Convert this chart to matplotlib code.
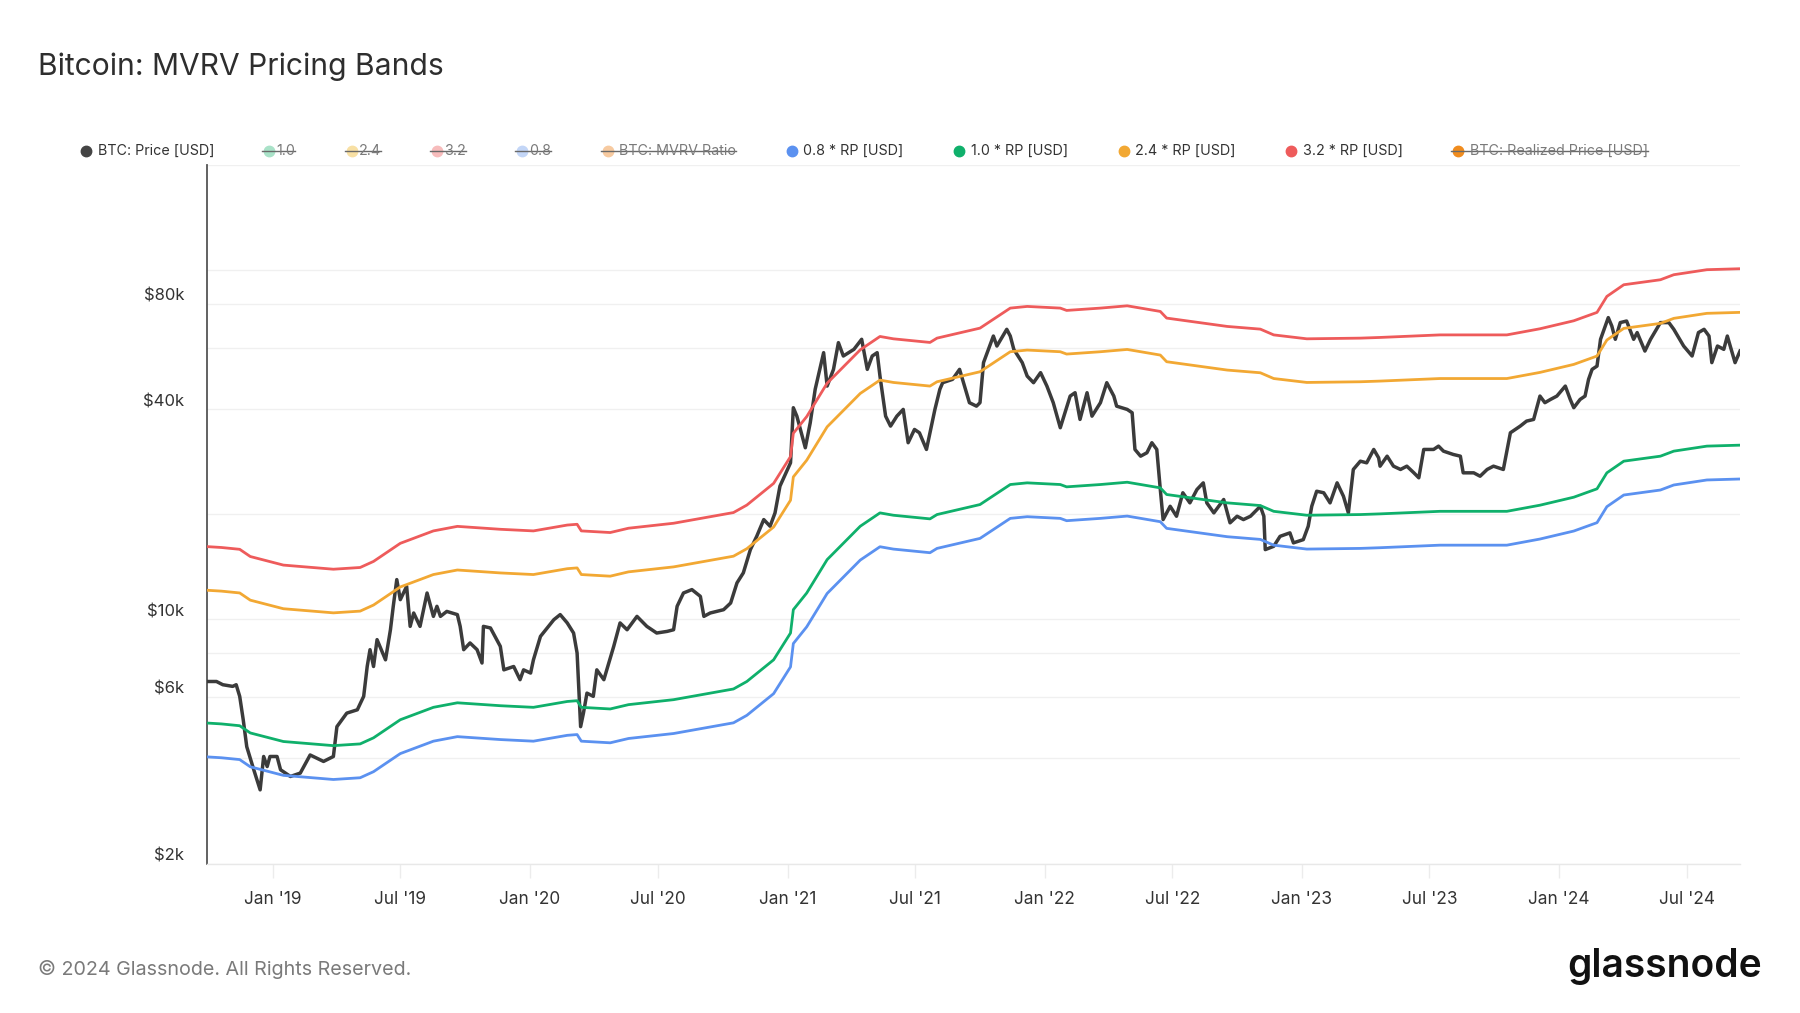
import matplotlib
matplotlib.use('Agg')
import matplotlib.pyplot as plt
import matplotlib.dates as mdates
from matplotlib.lines import Line2D
from matplotlib.ticker import FixedLocator, NullLocator, FixedFormatter
import pandas as pd

plt.rcParams['font.family'] = ['Inter', 'DejaVu Sans']

# ---------------- data ----------------
price_dates = [
    "2018-09-29", "2018-10-13", "2018-10-22", "2018-11-05", "2018-11-10", "2018-11-15", "2018-11-20",
    "2018-11-25", "2018-12-05", "2018-12-14", "2018-12-19", "2018-12-24", "2018-12-28", "2019-01-07",
    "2019-01-12", "2019-01-26", "2019-02-09", "2019-02-23", "2019-03-14", "2019-03-28", "2019-04-02",
    "2019-04-16", "2019-05-01", "2019-05-10", "2019-05-15", "2019-05-19", "2019-05-24", "2019-05-29",
    "2019-06-10", "2019-06-17", "2019-06-21", "2019-06-26", "2019-07-01", "2019-07-10", "2019-07-15",
    "2019-07-20", "2019-07-29", "2019-08-08", "2019-08-17", "2019-08-22", "2019-08-27", "2019-09-05",
    "2019-09-20", "2019-09-24", "2019-09-29", "2019-10-08", "2019-10-18", "2019-10-25", "2019-10-27",
    "2019-11-06", "2019-11-20", "2019-11-25", "2019-12-09", "2019-12-18", "2019-12-23", "2020-01-02",
    "2020-01-06", "2020-01-16", "2020-02-04", "2020-02-13", "2020-02-23", "2020-03-03", "2020-03-08",
    "2020-03-13", "2020-03-17", "2020-03-22", "2020-03-31", "2020-04-05", "2020-04-15", "2020-04-29",
    "2020-05-08", "2020-05-18", "2020-06-01", "2020-06-15", "2020-06-29", "2020-07-14", "2020-07-23",
    "2020-07-28", "2020-08-06", "2020-08-18", "2020-08-30", "2020-09-04", "2020-09-13", "2020-10-02",
    "2020-10-12", "2020-10-21", "2020-10-30", "2020-11-09", "2020-11-18", "2020-11-28", "2020-12-07",
    "2020-12-14", "2020-12-21", "2021-01-05", "2021-01-09", "2021-01-14", "2021-01-26", "2021-02-02",
    "2021-02-09", "2021-02-21", "2021-02-26", "2021-03-07", "2021-03-14", "2021-03-21", "2021-04-05",
    "2021-04-16", "2021-04-24", "2021-05-01", "2021-05-08", "2021-05-12", "2021-05-20", "2021-05-27",
    "2021-06-05", "2021-06-14", "2021-06-21", "2021-06-30", "2021-07-07", "2021-07-17", "2021-07-21",
    "2021-07-29", "2021-08-05", "2021-08-09", "2021-08-23", "2021-09-02", "2021-09-09", "2021-09-16",
    "2021-09-26", "2021-10-01", "2021-10-06", "2021-10-20", "2021-10-25", "2021-11-08", "2021-11-13",
    "2021-11-18", "2021-11-30", "2021-12-07", "2021-12-16", "2021-12-26", "2022-01-04", "2022-01-13",
    "2022-01-23", "2022-02-06", "2022-02-13", "2022-02-20", "2022-03-02", "2022-03-09", "2022-03-21",
    "2022-03-30", "2022-04-09", "2022-04-13", "2022-04-28", "2022-05-05", "2022-05-09", "2022-05-17",
    "2022-05-26", "2022-06-02", "2022-06-09", "2022-06-14", "2022-06-18", "2022-06-28", "2022-07-07",
    "2022-07-16", "2022-07-26", "2022-08-05", "2022-08-14", "2022-08-19", "2022-08-29", "2022-09-12",
    "2022-09-21", "2022-10-01", "2022-10-10", "2022-10-20", "2022-11-03", "2022-11-08", "2022-11-10",
    "2022-11-22", "2022-12-01", "2022-12-15", "2022-12-20", "2023-01-03", "2023-01-10", "2023-01-15",
    "2023-01-22", "2023-02-01", "2023-02-10", "2023-02-20", "2023-03-01", "2023-03-08", "2023-03-15",
    "2023-03-25", "2023-04-03", "2023-04-13", "2023-04-20", "2023-04-22", "2023-05-02", "2023-05-11",
    "2023-05-21", "2023-05-30", "2023-06-09", "2023-06-16", "2023-06-23", "2023-07-07", "2023-07-14",
    "2023-07-21", "2023-08-04", "2023-08-14", "2023-08-18", "2023-09-02", "2023-09-11", "2023-09-21",
    "2023-09-30", "2023-10-14", "2023-10-24", "2023-11-07", "2023-11-16", "2023-11-26", "2023-12-05",
    "2023-12-12", "2023-12-20", "2023-12-29", "2024-01-10", "2024-01-17", "2024-01-22", "2024-01-31",
    "2024-02-07", "2024-02-12", "2024-02-17", "2024-02-24", "2024-02-29", "2024-03-11", "2024-03-16",
    "2024-03-21", "2024-03-28", "2024-04-06", "2024-04-16", "2024-04-21", "2024-05-02", "2024-05-10",
    "2024-05-24", "2024-06-05", "2024-06-12", "2024-06-26", "2024-07-08", "2024-07-17", "2024-07-25",
    "2024-08-01", "2024-08-05", "2024-08-13", "2024-08-22", "2024-08-27", "2024-09-07", "2024-09-14",
]
price_values = [
    6640, 6640, 6500, 6430, 6500, 6020, 5160,
    4320, 3710, 3250, 4050, 3790, 4050, 4050,
    3710, 3550, 3630, 4090, 3920, 4050, 4930,
    5390, 5510, 6020, 7330, 8190, 7330, 8750,
    7660, 9340, 10900, 13000, 11390, 12430, 9550,
    10430, 9550, 11900, 10200, 10900, 10200, 10540,
    10320, 9550, 8190, 8560, 8190, 7500, 9550,
    9450, 8370, 7170, 7330, 6720, 7170, 7020,
    7660, 8940, 9980, 10320, 9770, 9140, 8010,
    4930, 5390, 6150, 6020, 7170, 6720, 8370,
    9770, 9340, 10200, 9550, 9140, 9240, 9340,
    10900, 11900, 12170, 11640, 10200, 10430, 10660,
    11140, 12720, 13590, 15840, 17290, 19310, 18480,
    20180, 24070, 28070, 40370, 38190, 31000, 36560,
    45560, 58040, 46560, 51980, 62000, 56770, 59320,
    63380, 51980, 56770, 58040, 49730, 38190, 35760,
    38190, 39920, 32050, 34980, 34220, 30660, 33470,
    39920, 45560, 47610, 48670, 51980, 46560, 41730,
    40790, 41730, 54340, 64760, 60630, 67700, 64760,
    59320, 54340, 49730, 47610, 50870, 46560, 41730,
    35380, 43590, 44570, 37370, 44570, 38190, 41730,
    47610, 43590, 40790, 39920, 39060, 30660, 29330,
    30000, 32050, 30660, 23540, 19310, 21080, 19740,
    23040, 21560, 23540, 24600, 21560, 20180, 22040,
    18900, 19740, 19310, 19740, 21080, 19740, 15840,
    16190, 17290, 17690, 16560, 16920, 18480, 21080,
    23280, 23040, 21560, 24600, 22520, 20180, 26870,
    28380, 28070, 30660, 29000, 27460, 29330, 27460,
    26870, 27460, 26280, 25430, 30660, 30660, 31340,
    30320, 29660, 29330, 26280, 26280, 25700, 26870,
    27460, 26870, 34220, 35760, 36960, 37370, 43590,
    41730, 42640, 43590, 46560, 42640, 40370, 42640,
    43590, 48670, 51980, 53120, 63380, 73120, 69180,
    63380, 70760, 71500, 63380, 66250, 58660, 63380,
    70760, 70760, 67700, 60630, 56770, 66250, 67700,
    64760, 54340, 60630, 59320, 64760, 54340, 58660,
]

rp_dates = [
    "2018-09-29", "2018-10-20", "2018-11-15", "2018-11-30", "2019-01-16", "2019-03-28", "2019-05-05",
    "2019-05-24", "2019-07-01", "2019-08-17", "2019-09-20", "2019-11-20", "2020-01-06", "2020-02-23",
    "2020-03-08", "2020-03-14", "2020-04-24", "2020-05-20", "2020-07-23", "2020-10-16", "2020-11-04",
    "2020-12-12", "2021-01-05", "2021-01-09", "2021-01-28", "2021-02-26", "2021-04-14", "2021-05-12",
    "2021-05-31", "2021-07-22", "2021-08-01", "2021-10-01", "2021-11-13", "2021-12-07", "2022-01-23",
    "2022-02-01", "2022-03-21", "2022-04-28", "2022-05-12", "2022-06-14", "2022-06-23", "2022-09-17",
    "2022-11-03", "2022-11-22", "2023-01-08", "2023-03-25", "2023-04-22", "2023-07-16", "2023-10-19",
    "2023-12-05", "2024-01-22", "2024-02-24", "2024-03-09", "2024-04-02", "2024-05-24", "2024-06-12",
    "2024-07-29", "2024-09-14",
]
rp_values = [
    5050, 5020, 4960, 4730, 4470, 4350, 4400,
    4580, 5160, 5600, 5770, 5660, 5600, 5820,
    5850, 5600, 5540, 5700, 5890, 6320, 6640,
    7660, 9140, 10660, 11900, 14830, 18480, 20180,
    19870, 19400, 19960, 21320, 24330, 24600, 24330,
    23960, 24330, 24700, 24430, 23800, 22780, 21560,
    21180, 20390, 19870, 19960, 20050, 20390, 20390,
    21230, 22380, 23650, 26280, 28380, 29330, 30320,
    31340, 31540,
]

band_multipliers = [0.8, 1.0, 2.4, 3.2]
band_labels = ["0.8 * RP [USD]", "1.0 * RP [USD]", "2.4 * RP [USD]", "3.2 * RP [USD]"]
band_colors = ["#5b91f0", "#0fb06b", "#f2a833", "#ee5b5b"]

y_tick_values = [2000, 4000, 6000, 8000, 10000, 20000, 40000, 60000, 80000, 100000, 200000]
y_tick_labels = ["$2k", "", "$6k", "", "$10k", "", "$40k", "", "$80k", "", ""]

legend_items = [
    # label, colour, text colour, struck-through, marker x, text x  (figure px)
    ("BTC: Price [USD]", "#444444", "#333333", False, 86, 98),
    ("1.0", "#a9e2c8", "#7a7a7a", True, 269, 276),
    ("2.4", "#f8e0a4", "#7a7a7a", True, 352, 359),
    ("3.2", "#f7bcbc", "#7a7a7a", True, 437, 444),
    ("0.8", "#c3d6f7", "#7a7a7a", True, 522, 529),
    ("BTC: MVRV Ratio", "#f7caa0", "#7a7a7a", True, 608, 619),
    ("0.8 * RP [USD]", "#5b91f0", "#333333", False, 792, 803),
    ("1.0 * RP [USD]", "#0fb06b", "#333333", False, 959, 971),
    ("2.4 * RP [USD]", "#f2a833", "#333333", False, 1124, 1135),
    ("3.2 * RP [USD]", "#ee5b5b", "#333333", False, 1291, 1303),
    ("BTC: Realized Price [USD]", "#f08c1e", "#7a7a7a", True, 1458, 1470),
]

# ---------------- figure ----------------
W, H = 1800, 1013
fig = plt.figure(figsize=(W / 100, H / 100), dpi=100)
fig.patch.set_facecolor("white")
ax = fig.add_axes([206.6 / W, 1 - 863.5 / H, (1740 - 206.6) / W, (863.5 - 165) / H])

pdates = pd.to_datetime(price_dates)
rdates = pd.to_datetime(rp_dates)
rp = pd.Series(rp_values, index=rdates, dtype=float)

ax.plot(pdates, price_values, color="#3b3b3b", lw=2.5, zorder=3, solid_joinstyle="round")
for m, c in zip(band_multipliers, band_colors):
    ax.plot(rdates, rp.values * m, color=c, lw=2.0, zorder=4, solid_joinstyle="round")

ax.set_yscale("log")
ax.set_ylim(2000, 200000)
ax.yaxis.set_major_locator(FixedLocator(y_tick_values))
ax.yaxis.set_major_formatter(FixedFormatter(y_tick_labels))
ax.yaxis.set_minor_locator(NullLocator())
ax.tick_params(axis="y", length=0, pad=16, labelsize=12, labelcolor="#333333")
for lbl in ax.get_yticklabels():
    lbl.set_verticalalignment("bottom")
ax.grid(axis="y", color="#f0f0f0", lw=1.0, zorder=0)

ax.set_xlim(pd.Timestamp("2018-09-29"), pd.Timestamp("2024-09-14"))
ax.xaxis.set_major_locator(mdates.MonthLocator(bymonth=[1, 7]))
ax.xaxis.set_major_formatter(mdates.DateFormatter("%b '%y"))
ax.tick_params(axis="x", length=10, width=1, color="#ececec", pad=10, labelsize=12.4,
               labelcolor="#333333")

for s in ["top", "right"]:
    ax.spines[s].set_visible(False)
ax.spines["left"].set_color("#555555")
ax.spines["left"].set_linewidth(1.3)
ax.spines["bottom"].set_color("#e8e8e8")
ax.spines["bottom"].set_linewidth(1.0)

# ---------------- texts ----------------
fig.text(38 / W, 1 - 67 / H, "Bitcoin: MVRV Pricing Bands", fontsize=21.6, color="#2e2e2e",
         va="center", ha="left")
fig.text(38 / W, 1 - 969 / H, "\u00a9 2024 Glassnode. All Rights Reserved.", fontsize=14.2,
         color="#7a7a7a", va="center", ha="left")
fig.text(1762 / W, 1 - 966 / H, "glassnode", fontsize=28, color="#111111", va="center", ha="right",
         fontweight="semibold")

# ---------------- legend ----------------
renderer = fig.canvas.get_renderer()
ly = 1 - 151 / H
for label, col, tcol, struck, mx, tx in legend_items:
    fig.add_artist(Line2D([mx / W], [ly], marker="o", ms=7.5, color=col, mec=col,
                          transform=fig.transFigure, linestyle="none"))
    t = fig.text(tx / W, ly, label, fontsize=10.3, color=tcol, va="center", ha="left")
    if struck:
        bb = t.get_window_extent(renderer)
        fig.add_artist(Line2D([(mx - 7) / W, bb.x1 / W], [ly, ly], color="#6a6a6a", lw=1.0,
                              transform=fig.transFigure))

fig.savefig("out.png", dpi=100, facecolor="white")
